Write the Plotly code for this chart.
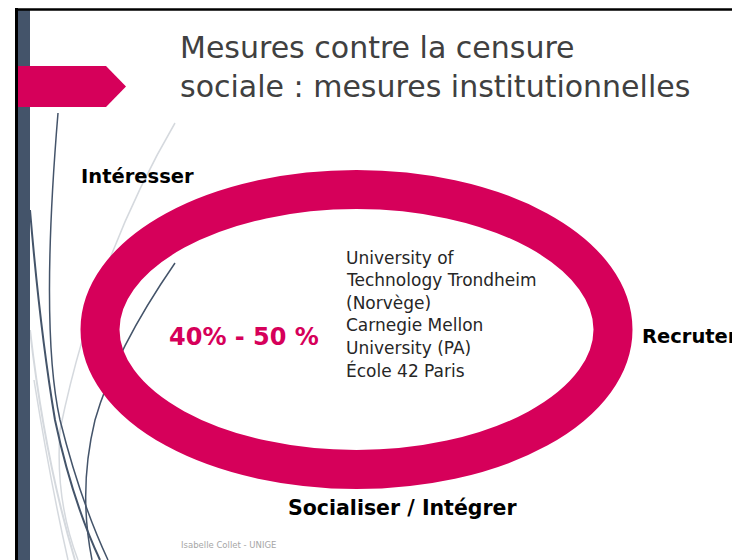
import plotly.graph_objects as go

# ---- content ----
title_lines = ["Mesures contre la censure", "sociale : mesures institutionnelles"]
stage_labels = ["Intéresser", "Recruter", "Socialiser / Intégrer"]
share_label = "40% - 50 %"
institution_lines = ["University of", "Technology Trondheim", "(Norvège)",
                     "Carnegie Mellon", "University (PA)", "École 42 Paris"]
footer = "Isabelle Collet - UNIGE"

PINK = "#D6005A"
SLATE = "#44546A"
FONT = "DejaVu Sans"

W, H = 740, 560
OFF = 8  # page body margin
fig = go.Figure()
fig.update_layout(
    width=W - OFF, height=H - OFF, margin=dict(l=0, r=0, t=0, b=0),
    paper_bgcolor="white", plot_bgcolor="white", showlegend=False,
    xaxis=dict(range=[OFF, W], visible=False, fixedrange=True),
    yaxis=dict(range=[H, OFF], visible=False, fixedrange=True),
)

shapes = []
# decorative curves (theme)
light = "#D5D9DE"
for path, col, w in [
    ("M 175 123 Q 95 260 60 430 Q 55 500 78 560", light, 1.5),
    ("M 30 330 Q 45 460 75 560", light, 2),
    ("M 34 380 Q 50 480 68 560", light, 1.5),
    ("M 58 113 Q 40 330 60 420 Q 80 500 108 560", SLATE, 1.5),
    ("M 30 210 Q 40 330 55 420 Q 72 500 100 560", SLATE, 2),
    ("M 175 263 Q 115 350 95 420 Q 78 490 92 560", SLATE, 1.5),
]:
    shapes.append(dict(type="path", path=path, line=dict(color=col, width=w),
                       xref="x", yref="y", layer="below"))

# frame lines
shapes.append(dict(type="rect", x0=18, x1=30, y0=10, y1=H, fillcolor=SLATE,
                   line=dict(width=0), xref="x", yref="y"))
shapes.append(dict(type="line", x0=16.5, x1=16.5, y0=8, y1=H,
                   line=dict(color="black", width=3), xref="x", yref="y"))
shapes.append(dict(type="line", x0=15, x1=W, y0=9.5, y1=9.5,
                   line=dict(color="black", width=2.5), xref="x", yref="y"))
# pink arrow tab
shapes.append(dict(type="path", path="M 18 66 L 106 66 L 126 86.5 L 106 107 L 18 107 Z",
                   fillcolor=PINK, line=dict(width=0), xref="x", yref="y"))
# ring
shapes.append(dict(type="circle", x0=100, x1=613, y0=189.5, y1=469.5,
                   line=dict(color=PINK, width=39), xref="x", yref="y"))
fig.update_layout(shapes=shapes)

ann = []
def txt(x, y, s, size, color="black", bold=False, anchor="left"):
    ann.append(dict(x=x, y=y, xref="x", yref="y", text=f"<b>{s}</b>" if bold else s,
                    showarrow=False, xanchor=anchor, yanchor="middle",
                    font=dict(family=FONT, size=size, color=color)))

txt(178, 47, title_lines[0], 30, "#404040")
txt(178, 86, title_lines[1], 30, "#404040")
txt(79, 176, stage_labels[0], 19.5, bold=True)
txt(640, 336, stage_labels[1], 19.5, bold=True)
txt(286, 508, stage_labels[2], 20.5, bold=True)
txt(167, 337, share_label, 24, PINK, bold=True)
for i, line in enumerate(institution_lines):
    txt(344, 258 + i * 22.4, line, 17, "#262626")
txt(179, 545, footer, 8.5, "#A6A6A6")
fig.update_layout(annotations=ann)

fig.write_html("out.html")
